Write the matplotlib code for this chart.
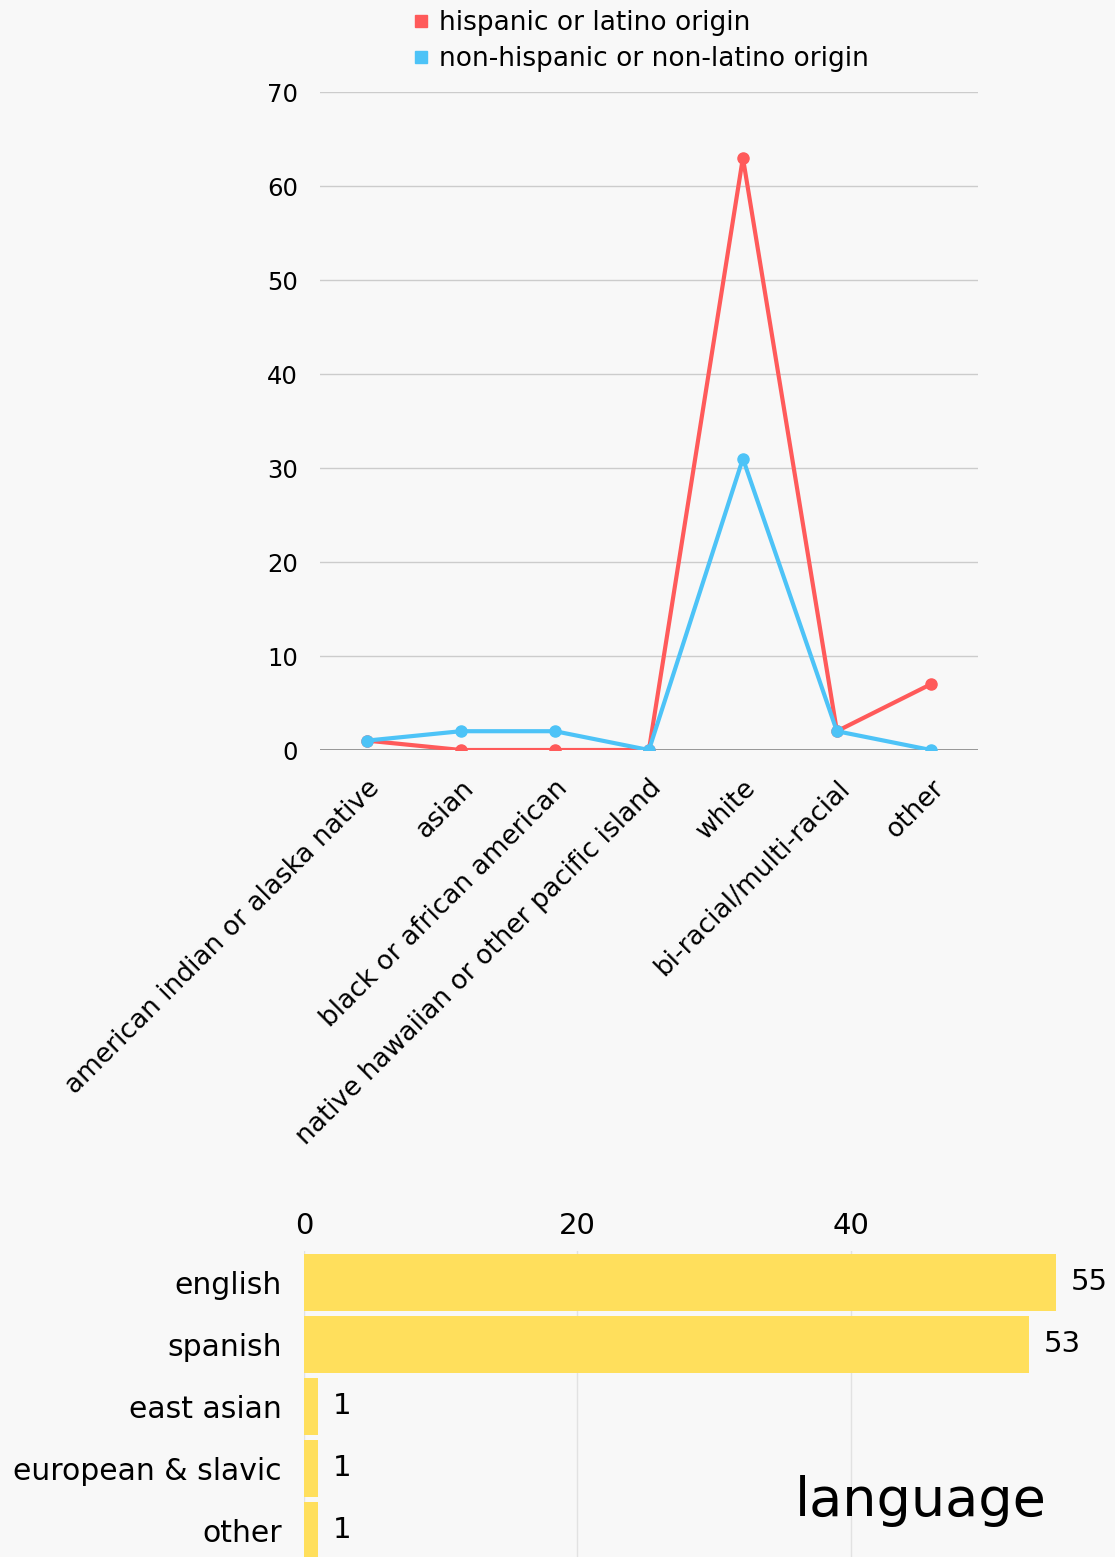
import matplotlib.pyplot as plt
from matplotlib.lines import Line2D

plt.rcParams['font.family'] = ['DejaVu Sans']

# race / ethnicity data
race_labels = ['american indian or alaska native', 'asian', 'black or african american',
               'native hawaiian or other pacific island', 'white', 'bi-racial/multi-racial', 'other']
hispanic = [1, 0, 0, 0, 63, 2, 7]
non_hispanic = [1, 2, 2, 0, 31, 2, 0]

# language data
lang_labels = ['english', 'spanish', 'east asian', 'european & slavic', 'other']
lang_counts = [55, 53, 1, 1, 1]

red = '#ff5a5a'
blue = '#4dc3f7'
yellow = '#ffdf5c'
bg = '#f8f8f8'

fig = plt.figure(figsize=(11.15, 15.57), dpi=100, facecolor=bg)

# ---- line chart ----
ax = fig.add_axes([0.287, 0.5183, 0.590, 0.4226], facecolor=bg)
x = list(range(len(race_labels)))
ax.plot(x, hispanic, color=red, lw=3, marker='o', ms=8, zorder=3)
ax.plot(x, non_hispanic, color=blue, lw=3, marker='o', ms=8, zorder=4)
ax.set_xlim(-0.5, len(race_labels) - 0.5)
ax.set_ylim(0, 70)
ax.set_yticks(range(0, 71, 10))
ax.grid(axis='y', color='#cccccc', lw=1)
ax.axhline(0, color='#888888', lw=1.2, zorder=2)
ax.set_axisbelow(True)
for s in ax.spines.values():
    s.set_visible(False)
ax.tick_params(length=0, labelsize=17.5, pad=16)
ax.set_xticks(x)
ax.set_xticklabels(race_labels, rotation=45, ha='right', rotation_mode='anchor', fontsize=19)
ax.tick_params(axis='x', pad=18)

handles = [Line2D([], [], ls='', marker='s', ms=9, color=red),
           Line2D([], [], ls='', marker='s', ms=9, color=blue)]
fig.legend(handles, ['hispanic or latino origin', 'non-hispanic or non-latino origin'],
           loc='upper left', bbox_to_anchor=(0.344, 1.009), frameon=False, fontsize=19,
           handletextpad=0.2, labelspacing=0.38, handlelength=1.0)

# ---- bar chart ----
bx = fig.add_axes([0.2726, -0.0026, 0.6744, 0.1991], facecolor=bg)
y = list(range(len(lang_labels)))
bars = bx.barh(y, lang_counts, height=0.92, color=yellow, zorder=3)
bx.set_ylim(len(lang_labels) - 0.5, -0.5)
bx.set_xlim(0, 55)
bx.set_xticks([0, 20, 40])
bx.xaxis.tick_top()
bx.grid(axis='x', color='#e2e2e2', lw=1)
bx.set_axisbelow(True)
for s in bx.spines.values():
    s.set_visible(False)
bx.tick_params(length=0, labelsize=21)
bx.tick_params(axis='x', pad=8)
bx.tick_params(axis='y', pad=16)
bx.set_yticks(y)
bx.set_yticklabels(lang_labels, fontsize=21.5)
for b, v in zip(bars, lang_counts):
    bx.text(b.get_width() + 1.1, b.get_y() + b.get_height() / 2, str(v),
            va='center', ha='left', fontsize=21)

fig.text(0.713, 0.036, 'language', fontsize=39, va='center', ha='left')

fig.savefig('out.png', dpi=100, facecolor=bg)
